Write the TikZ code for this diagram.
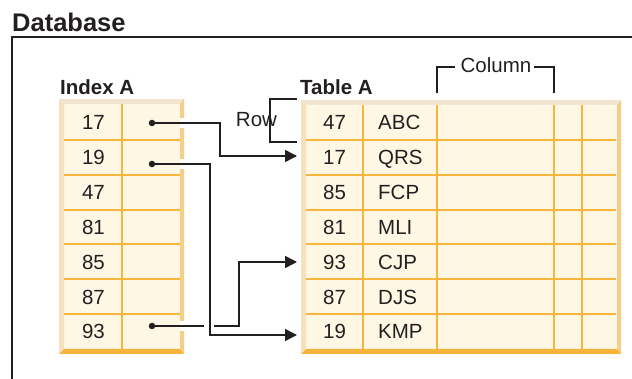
\documentclass[tikz,border=0pt]{standalone}
\usepackage{fontspec}
\setmainfont{Liberation Sans}
\usetikzlibrary{arrows.meta}
\definecolor{ink}{HTML}{231F20}
\definecolor{cellfill}{HTML}{FEF7E4}
\definecolor{gridline}{HTML}{F7B73C}
\definecolor{bevtop}{HTML}{F2E6D2}
\definecolor{bevleft}{HTML}{F5E1BE}
\definecolor{bevright}{HTML}{F6CE8A}
\definecolor{bevbot}{HTML}{F6B43A}
% bevelled table body: left, top, right, bottom
\newcommand{\bevbox}[4]{%
  \fill[cellfill] (#1,#2) rectangle (#3,#4);
  \fill[bevtop] (#1,#2) -- (#3,#2) -- (#3-4,#2+5) -- (#1+5,#2+5) -- cycle;
  \fill[bevleft] (#1,#2) -- (#1+5,#2+5) -- (#1+5,#4-5) -- (#1,#4) -- cycle;
  \fill[bevright] (#3,#2) -- (#3,#4) -- (#3-4,#4-5) -- (#3-4,#2+5) -- cycle;
  \fill[bevbot] (#1,#4) -- (#1+5,#4-5) -- (#3-4,#4-5) -- (#3,#4) -- cycle;
}
\begin{document}
\begin{tikzpicture}[x=1pt,y=-1pt,
    font=\fontsize{20.5}{24}\selectfont,
    title/.style={anchor=base west, inner sep=0, font=\fontsize{20.5}{24}\selectfont\bfseries, text=ink},
    keycell/.style={anchor=base, inner sep=0, text=ink},
    namecell/.style={anchor=base west, inner sep=0, text=ink},
    grid/.style={draw=gridline, line width=2pt},
    link/.style={draw=ink, line width=1.5pt},
    tip/.style={-{Triangle[length=12pt,width=12pt]}},
    dot/.style={circle, fill=ink, inner sep=0, minimum size=6.5pt},
    gap/.style={fill=white}]
\useasboundingbox (0,0) rectangle (632,379);

% frame
\node[anchor=base west, inner sep=0, font=\fontsize{25.5}{30}\selectfont\bfseries, text=ink] (db) at (12,32) {Database};
\draw[ink, line width=2pt] (12,385) -- (12,37) -- (640,37);

% index
\node[title] (idxtitle) at (60,95) {Index A};
\bevbox{59}{99}{184}{354}
\foreach \i in {1,...,6}
  \draw[grid] (64,105+34.86*\i) -- (180,105+34.86*\i);
\draw[grid] (122,104) -- (122,349);
\foreach \k [count=\i] in {17,19,47,81,85,87,93}
  \node[keycell] (ix\i) at (93.5,105+34.86*\i-17.43+7.35) {\k};

% table
\node[title] (tabtitle) at (300,95) {Table A};
\bevbox{301}{100}{621}{354}
\foreach \i in {1,...,6}
  \draw[grid] (306,105+34.86*\i) -- (616,105+34.86*\i);
\foreach \x in {363,437,554,582}
  \draw[grid] (\x,105) -- (\x,349);
\foreach \k/\n [count=\i] in {47/ABC,17/QRS,85/FCP,81/MLI,93/CJP,87/DJS,19/KMP} {
  \node[keycell] (tk\i) at (334.5,105+34.86*\i-17.43+7.35) {\k};
  \node[namecell] (tn\i) at (378,105+34.86*\i-17.43+7.35) {\n};
}

% row and column brackets
\node[keycell] (rowlbl) at (256.5,127) {Row};
\draw[ink, line width=1.5pt] (297,99) -- (270,99) -- (270,142) -- (297,142);
\node[keycell] (collbl) at (496,73) {Column};
\draw[ink, line width=1.5pt] (437,93) -- (437,67) -- (455,67);
\draw[ink, line width=1.5pt] (534,67) -- (554,67) -- (554,93);

% pointers
\node[dot] (d1) at (152,123) {};
\node[dot] (d2) at (152,164) {};
\node[dot] (d7) at (152,326) {};
\coordinate (b1) at (220,156);
\coordinate (b2) at (210,335);
\coordinate (b3) at (239,262);
\coordinate (t2) at (297,156);
\coordinate (t5) at (297,262);
\coordinate (t7) at (297,335);
\foreach \y in {123,164,326}
  \fill[gap] (179.5,\y-5) rectangle (185,\y+5);

\draw[link,tip] (d1.center) -| (b1) -- (t2);
\draw[link,tip] (d7.center) -| (b3) -- (t5);
\fill[gap] (203.5,321) rectangle (214,331);
\draw[link,tip] (d2.center) -| (b2) -- (t7);
\end{tikzpicture}
\end{document}
